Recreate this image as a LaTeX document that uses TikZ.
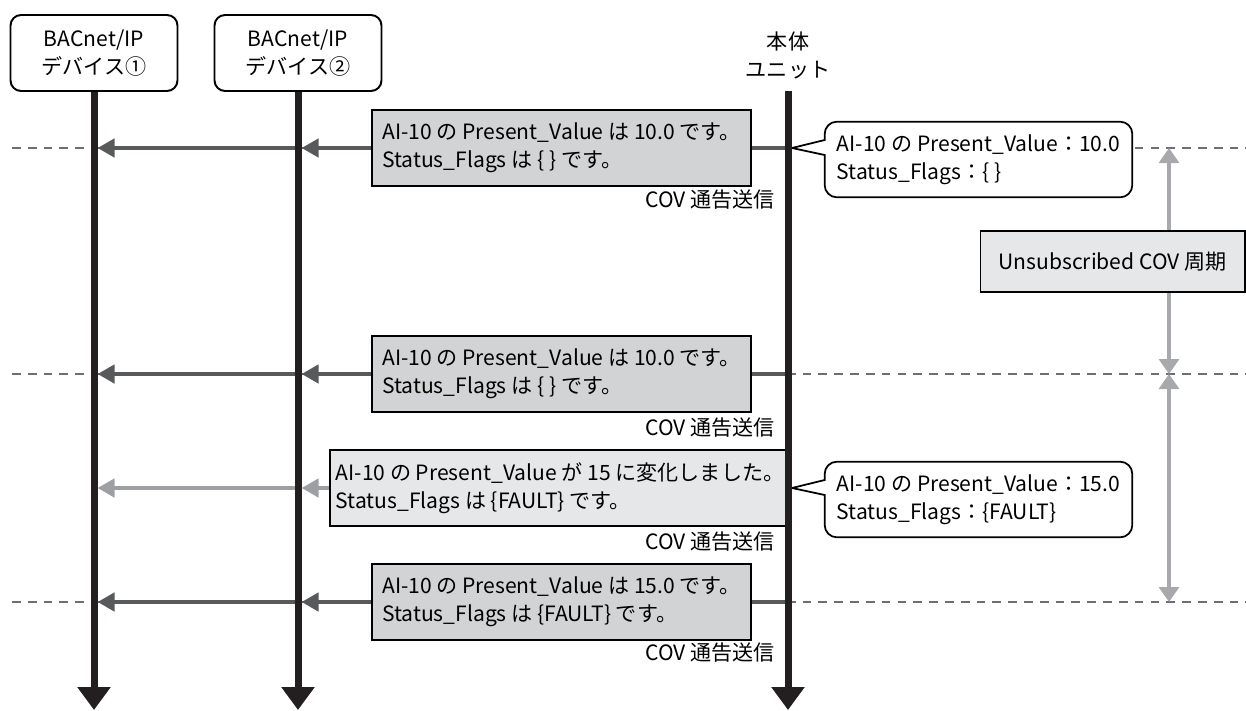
\documentclass[tikz,border=0pt]{standalone}
\usepackage{fontspec}
\setmainfont{Noto Sans CJK JP}
\usetikzlibrary{arrows.meta,backgrounds,calc,positioning}
\definecolor{lifeblack}{HTML}{231F20}
\definecolor{senddark}{HTML}{58595B}
\definecolor{sendlight}{HTML}{9D9FA2}
\definecolor{msgfill}{HTML}{D1D3D4}
\definecolor{changefill}{HTML}{E6E7E8}
\definecolor{periodgray}{HTML}{A7A9AC}
\definecolor{guidegray}{HTML}{6D6E71}
\tikzset{
    seq diagram/.style  = {x=0.02cm, y=-0.02cm,
                           font=\fontsize{12}{16}\selectfont},
    device/.style       = {draw, line width=1.1pt, rounded corners=6pt,
                           fill=white, align=center,
                           minimum width=3.34cm, minimum height=1.52cm},
    lifeline/.style     = {line width=0.14cm, draw=lifeblack,
                           -{Triangle[width=0.64cm,length=0.46cm]}},
    message/.style      = {draw, thick, fill=msgfill, align=left,
                           minimum width=7.58cm, minimum height=1.52cm},
    change/.style       = {message, fill=changefill, minimum width=9.08cm},
    send/.style         = {line width=0.09cm, draw=senddark},
    send tip/.style     = {send, shorten >=2pt,
                           -{Triangle[width=0.36cm,length=0.34cm]}},
    cov label/.style    = {anchor=east, inner sep=0pt},
    state/.style        = {align=left, minimum width=6.14cm,
                           minimum height=1.5cm},
    bubble/.style       = {draw, line width=1pt, fill=white},
    guide/.style        = {draw=guidegray, line width=0.7pt,
                           dash pattern=on 5pt off 4pt},
    interval/.style     = {draw=periodgray, line width=0.066cm,
                           {Triangle[width=0.4cm,length=0.3cm]}-{Triangle[width=0.4cm,length=0.3cm]}},
    period box/.style   = {draw, semithick, fill=changefill,
                           minimum width=5.3cm, minimum height=1.22cm}
}
\def\covtext{COV 通告送信}

\begin{document}
\begin{tikzpicture}[seq diagram]
\useasboundingbox (0,0) rectangle (1246,710);

% Guide lines through the periodic send instants.
\begin{scope}[on background layer]
    \foreach \row in {148,374,602}
        \draw[guide] (12,\row) -- (1246,\row);
\end{scope}

% Participants.
\node[device] (dev1) at (94,53) {BACnet/IP\\デバイス①};
\node[device] (dev2) at (298,53) {BACnet/IP\\デバイス②};
\node[align=center, inner sep=0pt] (unit) at (788,55) {本体\\ユニット};
\coordinate (unit start) at (788,91);
\coordinate (dev1 end) at (94,710);
\coordinate (dev2 end) at (298,710);
\coordinate (unit end) at (788,710);

% COV notifications sent by the unit.
\node[message] (msgA) at (561.5,148)
    {AI-10 の Present\_Value は 10.0 です。\\Status\_Flags は \{ \} です。};
\node[message] (msgB) at (561.5,374)
    {AI-10 の Present\_Value は 10.0 です。\\Status\_Flags は \{ \} です。};
\node[change] (msgC) at (560,488)
    {AI-10 の Present\_Value が 15 に変化しました。\\Status\_Flags は \{FAULT\} です。};
\node[message] (msgD) at (561.5,602)
    {AI-10 の Present\_Value は 15.0 です。\\Status\_Flags は \{FAULT\} です。};

\foreach \m in {msgA,msgB,msgD} {
    \draw[send] (unit |- \m) -- (\m.east);
    \draw[send tip] (\m.west) -- (dev2 |- \m);
    \draw[send tip] (dev2 |- \m) -- (dev1 |- \m);
}
\draw[send tip, draw=sendlight] (msgC.west) -- (dev2 |- msgC);
\draw[send tip, draw=sendlight] (dev2 |- msgC) -- (dev1 |- msgC);

\node[cov label] at (775,200) {\covtext};
\node[cov label] at (775,428) {\covtext};
\node[cov label] at (775,542) {\covtext};
\node[cov label] at (775,653) {\covtext};

% Lifelines.
\draw[lifeline] (dev1.south) -- (dev1 end);
\draw[lifeline] (dev2.south) -- (dev2 end);
\draw[lifeline] (unit start) -- (unit end);

% Unit state bubbles, outlined behind their text.
\node[state] (stateA) at (978.5,159.5)
    {AI-10 の Present\_Value：10.0\\Status\_Flags：\{ \}};
\node[state] (stateC) at (978.5,499.5)
    {AI-10 の Present\_Value：15.0\\Status\_Flags：\{FAULT\}};
\begin{scope}[on background layer]
    \foreach \s/\m in {stateA/msgA,stateC/msgC} {
        \coordinate (\s tip) at ($(unit |- \m)+(4,0)$);
        \draw[bubble] (\s tip) -- ($(\s.west)+(0,-19.5)$)
            [rounded corners=7pt] -- (\s.north west) -- (\s.north east)
            -- (\s.south east) -- (\s.south west)
            [sharp corners] -- ($(\s.west)+(0,-4.5)$) -- cycle;
    }
\end{scope}

% Unsubscribed COV period.
\coordinate (period top) at (1169,148);
\coordinate (period mid) at (1169,374);
\coordinate (period end) at (1169,602);
\draw[interval] (period top) -- (period mid);
\draw[interval] (period mid) -- (period end);
\node[period box] (period) at (1112.5,261.5) {Unsubscribed COV 周期};

\end{tikzpicture}
\end{document}
